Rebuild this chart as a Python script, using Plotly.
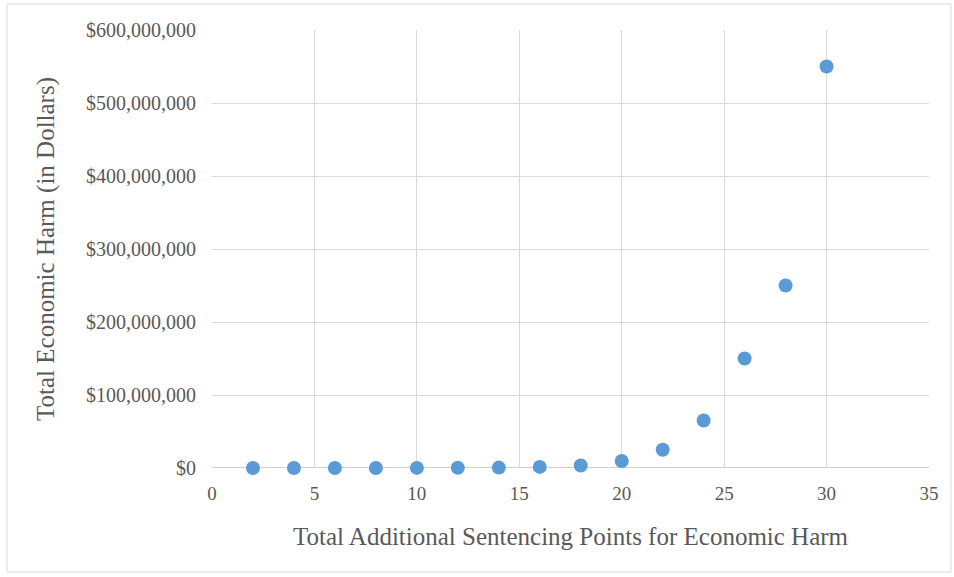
import plotly.graph_objects as go

points = [2, 4, 6, 8, 10, 12, 14, 16, 18, 20, 22, 24, 26, 28, 30]
harm = [6500, 15000, 40000, 95000, 150000, 250000, 550000, 1500000, 3500000,
        9500000, 25000000, 65000000, 150000000, 250000000, 550000000]
y_ticks = [0, 100000000, 200000000, 300000000, 400000000, 500000000, 600000000]
y_tick_labels = ["$0", "$100,000,000", "$200,000,000", "$300,000,000",
                 "$400,000,000", "$500,000,000", "$600,000,000"]
x_ticks = [0, 5, 10, 15, 20, 25, 30, 35]

W, H = 954, 577
L, R, T, B = 212, 25, 30, 109
pw, ph = W - L - R, H - T - B

font_family = "Liberation Serif, DejaVu Serif, serif"
txt = "#595959"

fig = go.Figure()
fig.add_trace(go.Scatter(
    x=points, y=harm, mode="markers",
    marker=dict(color="#5B9BD5", size=14, line=dict(width=0)),
    showlegend=False, cliponaxis=False,
))

fig.update_layout(
    width=W, height=H,
    margin=dict(l=L, r=R, t=T, b=B),
    paper_bgcolor="white", plot_bgcolor="white",
    font=dict(family=font_family, color=txt, size=18),
    xaxis=dict(
        range=[0, 35], tickvals=x_ticks, showgrid=True, gridcolor="#D9D9D9",
        gridwidth=1, zeroline=False, showline=False, ticks="",
        tickfont=dict(size=19, color=txt), ticklabelstandoff=12,
        title=dict(text="Total Additional Sentencing Points for Economic Harm",
                   font=dict(size=25, color=txt), standoff=24),
    ),
    yaxis=dict(
        range=[0, 600000000], tickvals=y_ticks, ticktext=y_tick_labels,
        showgrid=True, gridcolor="#D9D9D9", gridwidth=1, zeroline=False,
        showline=False, ticks="", tickfont=dict(size=20, color=txt),
        ticklabelstandoff=15,
        title=dict(text="Total Economic Harm (in Dollars)",
                   font=dict(size=25, color=txt), standoff=24),
    ),
    shapes=[
        dict(type="rect", xref="paper", yref="paper",
             x0=(7 - L) / pw, x1=(951 - L) / pw,
             y0=(H - B - 572) / ph, y1=(H - B - 4) / ph,
             line=dict(color="#D9D9D9", width=1), fillcolor="rgba(0,0,0,0)",
             layer="below"),
        dict(type="line", xref="paper", yref="y", x0=0, x1=1, y0=0, y1=0,
             line=dict(color="#BFBFBF", width=1.5), layer="below"),
    ],
)

fig.write_html("out.html", config={"displayModeBar": False},
               post_script="document.body.style.margin='0';document.body.style.overflow='hidden';")
